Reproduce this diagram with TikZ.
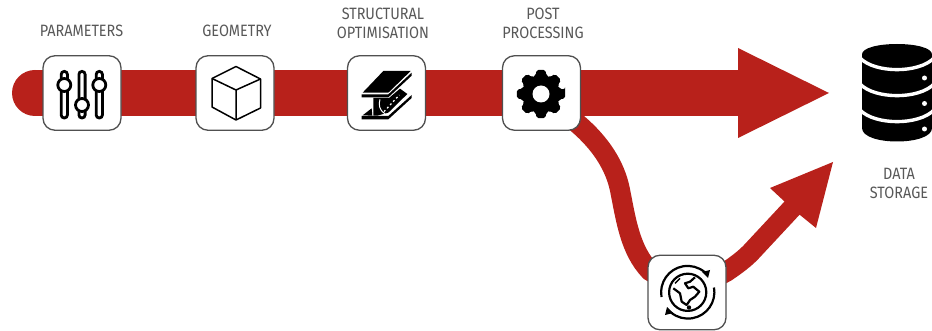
\documentclass[tikz,border=0pt]{standalone}
\usepackage{fontspec}
\setmainfont[FakeStretch=0.88]{Fira Sans}
\usetikzlibrary{backgrounds,calc}
\definecolor{bandred}{HTML}{B8211B}
\definecolor{labelgray}{HTML}{585858}
\definecolor{boxgray}{HTML}{505050}
\tikzset{
  iconbox/.style={draw=boxgray,line width=1.3pt,fill=white,rounded corners=12pt,minimum width=78pt,minimum height=74.5pt,inner sep=0pt,outer sep=0pt},
  steplabel/.style={text=labelgray,font=\fontsize{16.4}{19}\selectfont,align=center,inner sep=0pt},
  bandline/.style={draw=bandred,line width=46pt},
  branchline/.style={draw=bandred,line width=20pt},
  headfill/.style={fill=bandred,draw=none},
  iconline/.style={draw=black,line width=2.8pt},
  thinicon/.style={draw=black,line width=1.5pt,line join=round},
  globeline/.style={draw=black,line width=2.2pt,line join=round},
}
\begin{document}
\begin{tikzpicture}[x=1pt,y=-1pt]
\useasboundingbox (0,0) rectangle (932,331);
\clip (0,0) rectangle (932,331);
\node[iconbox] (params) at (82,93) {};
\node[iconbox] (geom) at (235,93) {};
\node[iconbox] (struct) at (386.5,93) {};
\node[iconbox] (post) at (541.5,93) {};
\node[iconbox] (cloud) at (687,292.5) {};
\coordinate (start) at (35,93);
\coordinate (headbase) at (740,93);
\coordinate (headtip) at (829,93);
\coordinate (branchhead) at (794,206);
\begin{scope}[on background layer]
  \fill[bandred] (start) circle (23pt);
  \draw[bandline] (start) -- (headbase);
  \fill[headfill] (headtip) -- (738,48) -- (738,138) -- cycle;
  \draw[branchline] (post.center) -- (578,124) .. controls (600,143) and (615,165) .. (620,190)
     .. controls (626,220) and (630,250) .. (650,271) -- (cloud.center);
  \draw[branchline] (cloud.center) -- (726,272) .. controls (735,266) and (746,258) .. (753,250) -- (branchhead);
  \fill[headfill] (833,162) -- (770,188) -- (785,202) -- (800,215) -- (816,228) -- cycle;
\end{scope}
\node[steplabel] (lparams) at (81.5,31) {PARAMETERS};
\node[steplabel] (lgeom) at (237,31) {GEOMETRY};
\node[steplabel] (lstruct) at (383,23.5) {STRUCTURAL\\OPTIMISATION};
\node[steplabel] (lpost) at (543,23.5) {POST\\PROCESSING};
\node[steplabel] (lstore) at (899,183.5) {DATA\\STORAGE};
% sliders
\foreach \x/\k in {64.3/85,82/105,99.3/85}{
  \draw[iconline,rounded corners=3pt,fill=white] (\x-3.1,71.4) rectangle (\x+3.1,118);
  \draw[iconline,fill=white] (\x,\k) circle (6.5pt);
}
% cube
\draw[thinicon] (236,66.5) -- (260.5,79) -- (260.5,108) -- (236,120) -- (212,107) -- (212,78.5) -- cycle;
\draw[thinicon] (212,78.5) -- (236,90) -- (260.5,79) (236,90) -- (236,120);
% beam
\begin{scope}[shift={(320,0)},x=0.3333pt,y=-0.3333pt]
\fill[black] (190,213) -- (272,213) -- (205,278) -- (128,278) -- cycle;
\fill[black] (125,283) -- (205,283) -- (275,218) -- (275,227) -- (205,292) -- (125,292) -- cycle;
\fill[black] (160,294) -- (207,294) -- (240,266) -- (262,282) -- (205,338) -- (172,347) -- (160,347) -- cycle;
\fill[black] (128,346) -- (155,325) -- (157,347) -- cycle;
\fill[black] (125,348) -- (205,348) -- (275,285) -- (275,294) -- (205,358) -- (125,358) -- cycle;
\draw[white,line width=1pt] (180,298) .. controls (176,312) and (176,330) .. (195,341);
\draw[white,line width=1.2pt,dash pattern=on 2pt off 2.5pt] (192,335) -- (238,285);
\end{scope}
% gear
\fill[black,rounded corners=2pt] ($(541,94)+(-11:24.5)$)
  \foreach \a in {0,45,...,315}{ -- ($(541,94)+(\a-11:24.5)$) -- ($(541,94)+(\a+11:24.5)$) -- ($(541,94)+(\a+16:19)$) -- ($(541,94)+(\a+29:19)$) } -- cycle;
\fill[white] (541,94) circle (8.5pt);
% globe
\draw[globeline] (687.7,292.3) circle (18.6pt);
\draw[globeline] (661.5,297) arc[start angle=170,end angle=310,radius=26.5];
\draw[globeline] (714,287.5) arc[start angle=-10,end angle=130,radius=26.5];
\fill[black] (710,270) -- (708,278) -- (702,272) -- cycle;
\fill[black] (665,315) -- (667,307) -- (673,313) -- cycle;
\draw[globeline] (695,277.3) -- (690,281.7) -- (685,283.3) -- (688.3,288.3) -- (693.3,286.7) -- (699.3,291.7) -- (695,296.7) -- (690,300) -- (686.7,305) -- (681.7,301.7) -- (680,293.3) -- (673.3,288.3);
\draw[black,line width=1.4pt] (675,283.3) -- (680,278.3);
\fill[black] (689,307.5) circle (2.2pt);
% database
\fill[black] (862,54.5) .. controls (862,40.5) and (932,40.5) .. (932,54.5) -- (932,128) .. controls (932,146) and (862,146) .. (862,128) -- cycle;
\foreach \y in {58,84,110}{
  \draw[white,line width=3.4pt] (860,\y) .. controls (875,\y+15.5) and (919,\y+15.5) .. (934,\y);
}
\foreach \y in {78,103.5,129}{ \fill[white] (924.5,\y) circle (2.5pt); }
\end{tikzpicture}
\end{document}
